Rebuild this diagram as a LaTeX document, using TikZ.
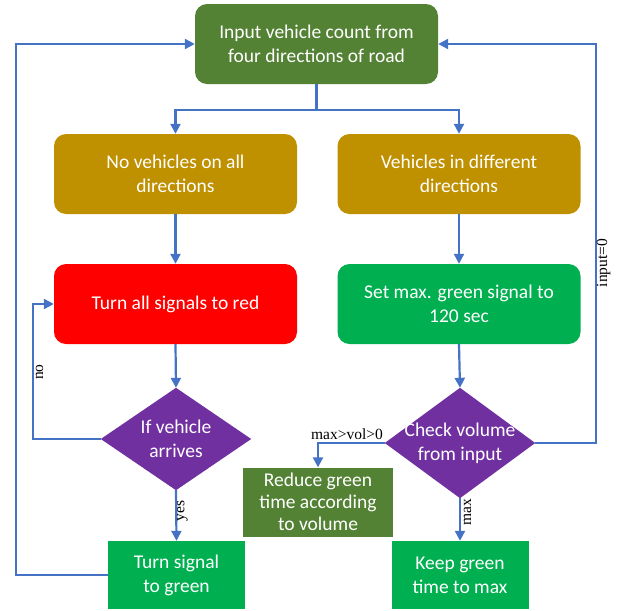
\documentclass[tikz,border=0pt]{standalone}
\usepackage{fontspec}
\setmainfont{Carlito}
\newfontfamily\lblfont{Liberation Serif}
\usetikzlibrary{arrows.meta,backgrounds}
\definecolor{cOlive}{HTML}{548235}
\definecolor{cGold}{HTML}{BF9000}
\definecolor{cRed}{HTML}{FF0000}
\definecolor{cGreen}{HTML}{00B050}
\definecolor{cPurple}{HTML}{7030A0}
\definecolor{cLine}{HTML}{4472C4}
\begin{document}
\begin{tikzpicture}[x=1pt,y=-1pt,
  base/.style={text=white,inner sep=0pt,align=center,font=\fontsize{19.5}{24}\selectfont},
  rbox/.style={base,rounded corners=12pt,minimum width=243pt,minimum height=80pt},
  sbox/.style={base,minimum width=137pt,minimum height=68pt},
  dia/.style={base,minimum width=150pt},
  conn/.style={draw=cLine,line width=2.2pt,-{Triangle[length=10pt,width=10pt]}},
  plain/.style={draw=cLine,line width=2.2pt},
  lbl/.style={font=\lblfont\fontsize{15.5}{17}\selectfont,inner sep=0pt,text=black}]
\useasboundingbox (0,0) rectangle (622,611);
\node[rbox,fill=cOlive] (top) at (316.5,44) {Input vehicle count from\\four directions of road};
\node[rbox,fill=cGold] (nov) at (175.5,174) {No vehicles on all\\directions};
\node[rbox,fill=cGold] (veh) at (459,174) {Vehicles in different\\directions};
\node[rbox,fill=cRed] (red) at (175.5,304) {Turn all signals to red};
\node[rbox,fill=cGreen] (setmax) at (459,304) {Set max. green signal to\\120 sec};
\node[dia,minimum height=102pt] (arr) at (176,439) {If vehicle\\arrives};
\node[dia,minimum height=110pt] (chk) at (460,443) {Check volume\\from input};
\begin{scope}[on background layer]
\fill[cPurple] (arr.north) -- (arr.east) -- (arr.south) -- (arr.west) -- cycle;
\fill[cPurple] (chk.north) -- (chk.east) -- (chk.south) -- (chk.west) -- cycle;
\end{scope}
\node[sbox,fill=cGreen] (tg) at (176.5,575) {Turn signal\\to green};
\node[base,fill=cOlive,minimum width=150pt,minimum height=69pt,font=\fontsize{19.5}{22}\selectfont] (red2) at (318,502) {Reduce green\\time according\\to volume};
\node[sbox,fill=cGreen] (keep) at (460,575) {Keep green\\time to max};
% connectors
\coordinate (split) at (316.5,110);
\draw[plain] (top.south) -- (split);
\draw[conn] (split) -| (nov.north);
\draw[conn] (split) -| (veh.north);
\draw[conn] (nov.south) -- (red.north);
\draw[conn] (veh.south) -- (setmax.north);
\draw[conn] (red.south) -- (arr.north);
\draw[conn] (setmax.south) -- (chk.north);
\coordinate (noc1) at (33,439);
\coordinate (noc2) at (33,304);
\draw[conn] (arr.west) -- (noc1) -- (noc2) -- (red.west);
\draw[conn] (arr.south) -- (tg.north);
\coordinate (tgc1) at (16,575);
\coordinate (tgc2) at (16,44);
\draw[conn] (tg.west) -- (tgc1) -- (tgc2) -- (top.west);
\coordinate (inc1) at (596,443);
\coordinate (inc2) at (596,44);
\draw[conn] (chk.east) -- (inc1) -- (inc2) -- (top.east);
\coordinate (mvc) at (318,443);
\draw[conn] (chk.west) -- (mvc) -- (red2.north);
\draw[conn] (chk.south) -- (keep.north);
% labels
\node[lbl,rotate=90] (lno) at (39.5,372) {no};
\node[lbl,rotate=90] (lyes) at (182.5,511) {yes};
\node[lbl,rotate=90] (lmax) at (467.5,512) {max};
\node[lbl,rotate=90] (lin) at (603.5,263) {input=0};
\node[lbl] (lmv) at (347,434) {max>vol>0};
\end{tikzpicture}
\end{document}
